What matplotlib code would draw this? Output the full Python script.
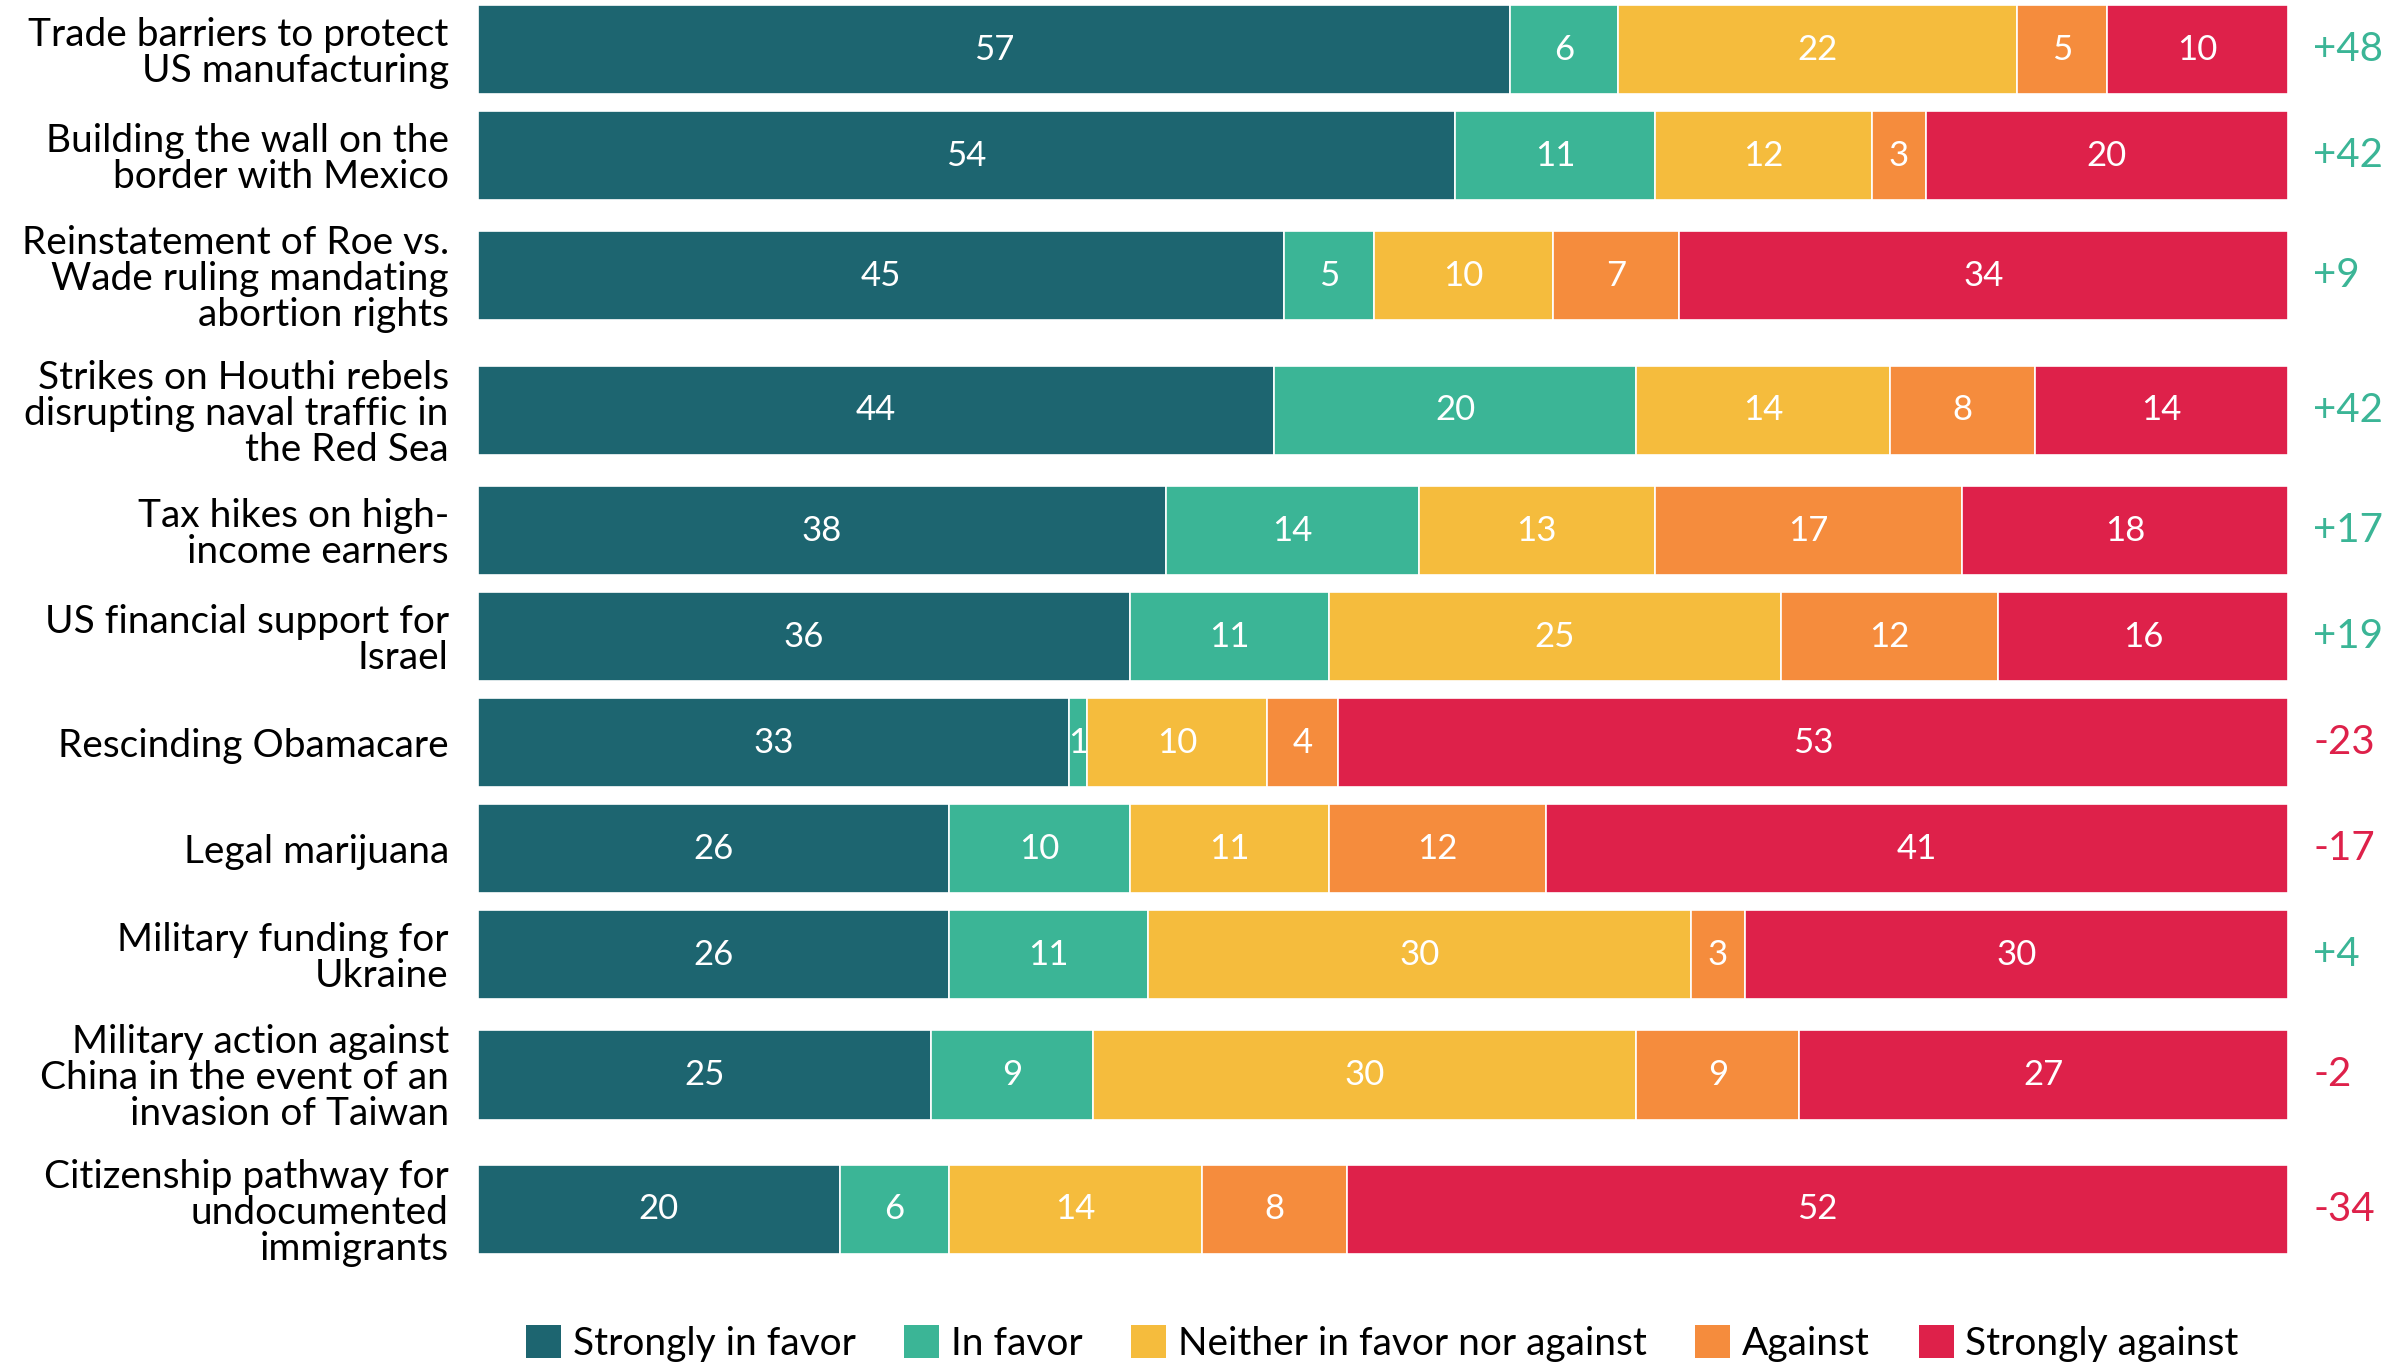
import matplotlib
matplotlib.use("Agg")
import matplotlib.pyplot as plt
from matplotlib.patches import Patch

plt.rcParams['font.family'] = ['Lato', 'DejaVu Sans']

categories = [
    "Trade barriers to protect\nUS manufacturing",
    "Building the wall on the\nborder with Mexico",
    "Reinstatement of Roe vs.\nWade ruling mandating\nabortion rights",
    "Strikes on Houthi rebels\ndisrupting naval traffic in\nthe Red Sea",
    "Tax hikes on high-\nincome earners",
    "US financial support for\nIsrael",
    "Rescinding Obamacare",
    "Legal marijuana",
    "Military funding for\nUkraine",
    "Military action against\nChina in the event of an\ninvasion of Taiwan",
    "Citizenship pathway for\nundocumented\nimmigrants",
]
strongly_favor = [57, 54, 45, 44, 38, 36, 33, 26, 26, 25, 20]
in_favor       = [6, 11, 5, 20, 14, 11, 1, 10, 11, 9, 6]
neither        = [22, 12, 10, 14, 13, 25, 10, 11, 30, 30, 14]
against        = [5, 3, 7, 8, 17, 12, 4, 12, 3, 9, 8]
strongly_ag    = [10, 20, 34, 14, 18, 16, 53, 41, 30, 27, 52]
net            = [48, 42, 9, 42, 17, 19, -23, -17, 4, -2, -34]

series_names = ["Strongly in favor", "In favor", "Neither in favor nor against",
                "Against", "Strongly against"]
series = [strongly_favor, in_favor, neither, against, strongly_ag]
colors = ["#1D6570", "#3BB596", "#F5BC3D", "#F58C3D", "#DE214A"]
pos_color = "#3BB596"
neg_color = "#DE214A"

# row positions: extra room for three-line labels
nlines = [c.count("\n") + 1 for c in categories]
ypos = [0.0]
for i in range(1, len(categories)):
    extra = max(0, nlines[i - 1] - 2) + max(0, nlines[i] - 2)
    ypos.append(ypos[-1] + 1.0 + 0.134 * extra)
bar_h = 0.84

fig = plt.figure(figsize=(24, 13.67), dpi=100)
ax = fig.add_axes([478 / 2400, 1 - 1254 / 1367, (2288 - 478) / 2400, (1254 - 5) / 1367])

totals = [sum(s[i] for s in series) for i in range(len(categories))]
left = [0.0] * len(categories)
for vals, col in zip(series, colors):
    widths = [v / t * 100 for v, t in zip(vals, totals)]
    ax.barh(ypos, widths, left=left, height=bar_h, color=col,
            edgecolor="white", linewidth=1.2)
    for y, l, w, v in zip(ypos, left, widths, vals):
        ax.text(l + w / 2, y, str(v), ha="center", va="center",
                color="white", fontsize=25)
    left = [l + w for l, w in zip(left, widths)]

for y, n in zip(ypos, net):
    txt = f"+{n}" if n > 0 else f"{n}"
    ax.text(101.4, y, txt, ha="left", va="center", fontsize=29,
            color=pos_color if n > 0 else neg_color)

ax.set_xlim(0, 100)
ax.set_ylim(ypos[-1] + bar_h / 2, ypos[0] - bar_h / 2)
ax.set_yticks(ypos)
ax.set_yticklabels(categories, fontsize=28, linespacing=1.0, ha="right")
ax.tick_params(axis="y", length=0, pad=21)
ax.set_xticks([])
for s in ax.spines.values():
    s.set_visible(False)

handles = [Patch(facecolor=c, edgecolor="none") for c in colors]
fig.legend(handles, series_names, loc="center", bbox_to_anchor=(0.576, 0.017),
           ncol=5, frameon=False, fontsize=28, handlelength=0.9,
           handleheight=0.9, handletextpad=0.3, columnspacing=1.25,
           borderaxespad=0)

fig.savefig("out.png", dpi=100)
